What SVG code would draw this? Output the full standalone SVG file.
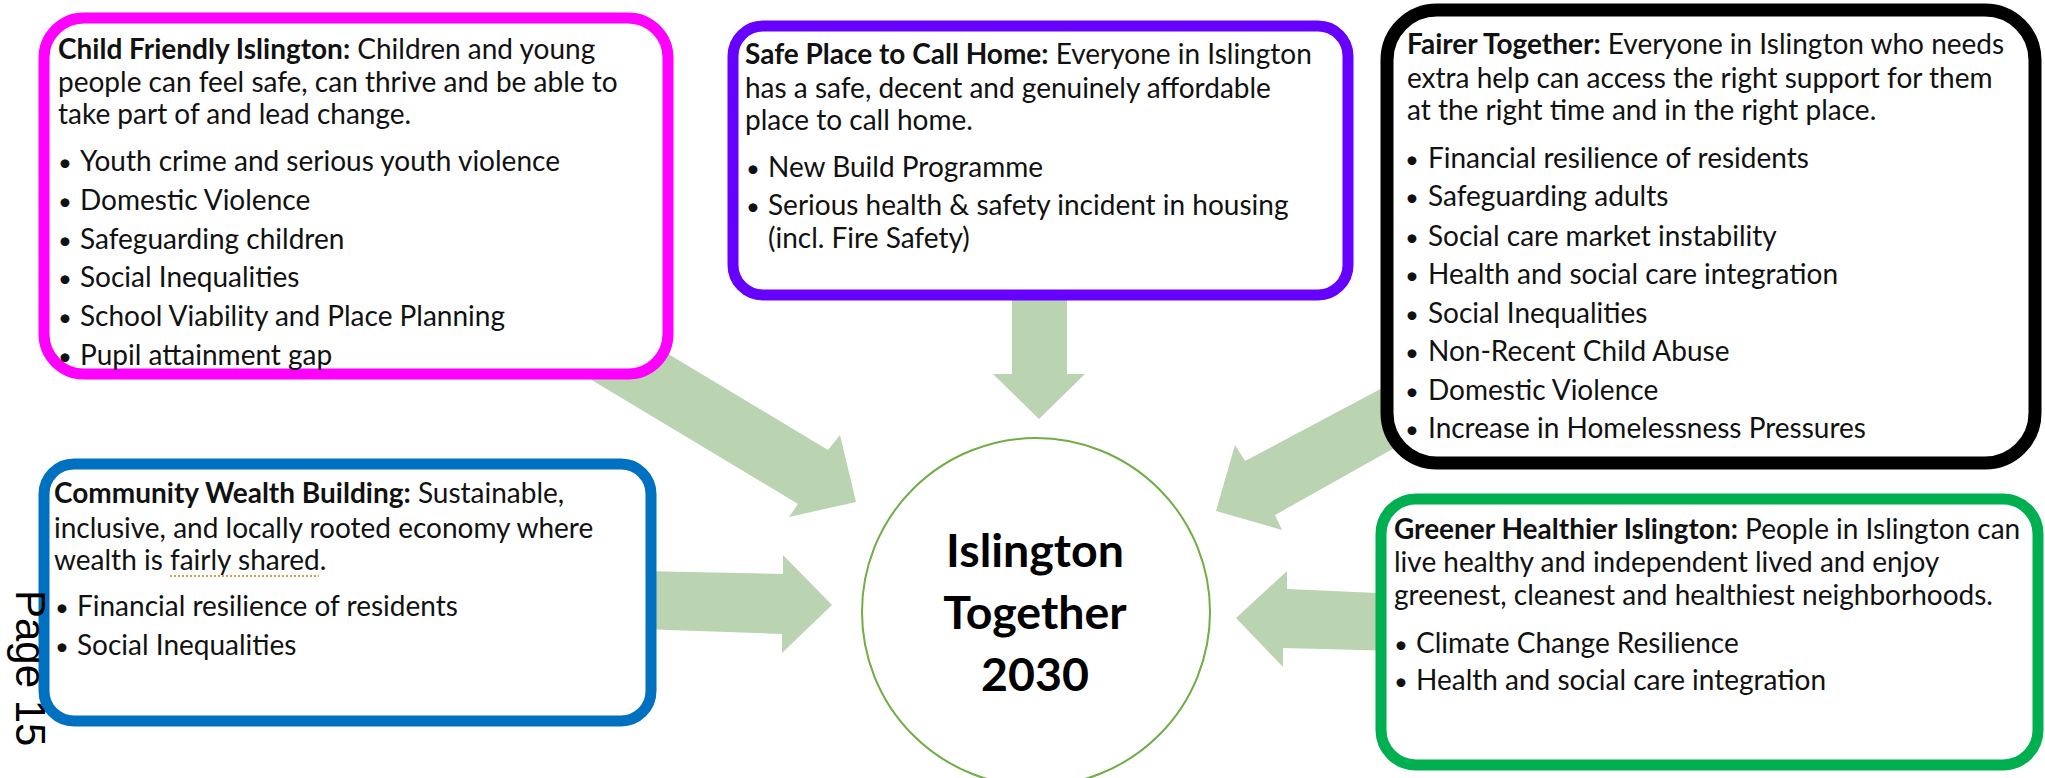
<svg xmlns="http://www.w3.org/2000/svg" width="2045" height="778" viewBox="0 0 2045 778">
  <style>
    .t { font-family: Lato, "Open Sans", "Liberation Sans", sans-serif; font-size: 28px; fill: #111; }
    .b { font-weight: 700; }
    .dot { text-anchor: middle; font-size: 24px; }
    .box { fill: #fff; }
    .arrow { fill: #bad3b1; }
    .hub { font-family: Lato, "Open Sans", "Liberation Sans", sans-serif; font-size: 46.5px; font-weight: 700; fill: #000; text-anchor: middle; }
  </style>

  <rect width="2045" height="778" fill="#fff"/>

  <!-- block arrows pointing into the hub; their tails run under the boxes -->
  <g id="connectors">
    <polygon class="arrow" points="600,313 828,450 840,435 856,502 789,517 798,504 560,361"/>
    <polygon class="arrow" points="1012,290 1067,290 1067,374 1085,374 1039,419 993,374 1012,374"/>
    <polygon class="arrow" points="1420,368 1245,461 1235,445 1216,511 1282,530 1275,515 1430,428"/>
    <polygon class="arrow" points="640,571 783,574 783,555 832,605 782,653 782,634 640,629"/>
    <polygon class="arrow" points="1400,594 1287,589 1287,571 1236,618 1283,667 1283,648 1400,651"/>
  </g>

  <g id="hub">
    <circle cx="1036" cy="612" r="174" fill="#fff" stroke="#70ad47" stroke-width="2"/>
    <text class="hub" x="1035" y="567">Islington</text>
    <text class="hub" x="1035" y="629">Together</text>
    <text class="hub" x="1035" y="691">2030</text>
  </g>

  <g id="child-friendly">
    <rect class="box" x="44" y="18" width="624" height="356" rx="40" stroke="#ff00ff" stroke-width="11"/>
    <text class="t" x="58" y="59"><tspan class="b">Child Friendly Islington:</tspan> Children and young</text>
    <text class="t" x="58" y="92">people can feel safe, can thrive and be able to</text>
    <text class="t" x="58" y="124">take part of and lead change.</text>
    <text class="t dot" x="65" y="171">•</text><text class="t" x="80" y="171">Youth crime and serious youth violence</text>
    <text class="t dot" x="65" y="210">•</text><text class="t" x="80" y="210">Domestic Violence</text>
    <text class="t dot" x="65" y="249">•</text><text class="t" x="80" y="249">Safeguarding children</text>
    <text class="t dot" x="65" y="287">•</text><text class="t" x="80" y="287">Social Inequalities</text>
    <text class="t dot" x="65" y="326">•</text><text class="t" x="80" y="326">School Viability and Place Planning</text>
    <text class="t dot" x="65" y="365">•</text><text class="t" x="80" y="365">Pupil attainment gap</text>
  </g>

  <g id="safe-place">
    <rect class="box" x="733" y="26" width="615" height="269" rx="30" stroke="#6600ff" stroke-width="11"/>
    <text class="t" x="745" y="64"><tspan class="b">Safe Place to Call Home:</tspan> Everyone in Islington</text>
    <text class="t" x="745" y="98">has a safe, decent and genuinely affordable</text>
    <text class="t" x="745" y="130">place to call home.</text>
    <text class="t dot" x="753" y="177">•</text><text class="t" x="768" y="177">New Build Programme</text>
    <text class="t dot" x="753" y="215">•</text><text class="t" x="768" y="215">Serious health &amp; safety incident in housing</text>
    <text class="t" x="768" y="248">(incl. Fire Safety)</text>
  </g>

  <g id="fairer-together">
    <rect class="box" x="1387" y="10" width="648" height="453" rx="50" stroke="#000" stroke-width="13"/>
    <text class="t" x="1407" y="54"><tspan class="b">Fairer Together:</tspan> Everyone in Islington who needs</text>
    <text class="t" x="1407" y="88">extra help can access the right support for them</text>
    <text class="t" x="1407" y="120">at the right time and in the right place.</text>
    <text class="t dot" x="1412" y="168">•</text><text class="t" x="1428" y="168">Financial resilience of residents</text>
    <text class="t dot" x="1412" y="206">•</text><text class="t" x="1428" y="206">Safeguarding adults</text>
    <text class="t dot" x="1412" y="246">•</text><text class="t" x="1428" y="246">Social care market instability</text>
    <text class="t dot" x="1412" y="284">•</text><text class="t" x="1428" y="284">Health and social care integration</text>
    <text class="t dot" x="1412" y="323">•</text><text class="t" x="1428" y="323">Social Inequalities</text>
    <text class="t dot" x="1412" y="361">•</text><text class="t" x="1428" y="361">Non-Recent Child Abuse</text>
    <text class="t dot" x="1412" y="400">•</text><text class="t" x="1428" y="400">Domestic Violence</text>
    <text class="t dot" x="1412" y="438">•</text><text class="t" x="1428" y="438">Increase in Homelessness Pressures</text>
  </g>

  <g id="community-wealth">
    <rect class="box" x="44" y="464" width="607" height="257" rx="30" stroke="#0070c0" stroke-width="11"/>
    <text class="t" x="54" y="503"><tspan class="b">Community Wealth Building:</tspan> Sustainable,</text>
    <text class="t" x="54" y="538">inclusive, and locally rooted economy where</text>
    <text class="t" x="54" y="570">wealth is fairly shared.</text>
    <line x1="170" y1="576" x2="319" y2="576" stroke="#c9a24a" stroke-width="2" stroke-dasharray="2 2"/>
    <text class="t dot" x="62" y="616">•</text><text class="t" x="77" y="616">Financial resilience of residents</text>
    <text class="t dot" x="62" y="655">•</text><text class="t" x="77" y="655">Social Inequalities</text>
  </g>

  <g id="greener-healthier">
    <rect class="box" x="1381" y="499" width="657" height="266" rx="35" stroke="#00b050" stroke-width="11"/>
    <text class="t" x="1394" y="539"><tspan class="b">Greener Healthier Islington:</tspan> People in Islington can</text>
    <text class="t" x="1394" y="572">live healthy and independent lived and enjoy</text>
    <text class="t" x="1394" y="605">greenest, cleanest and healthiest neighborhoods.</text>
    <text class="t dot" x="1401" y="653">•</text><text class="t" x="1416" y="653">Climate Change Resilience</text>
    <text class="t dot" x="1401" y="690">•</text><text class="t" x="1416" y="690">Health and social care integration</text>
  </g>

  <text id="page-number" x="16" y="590" transform="rotate(90 16 590)" font-family="'Liberation Sans', Arial, sans-serif" font-size="42" fill="#000">Page 15</text>
</svg>
